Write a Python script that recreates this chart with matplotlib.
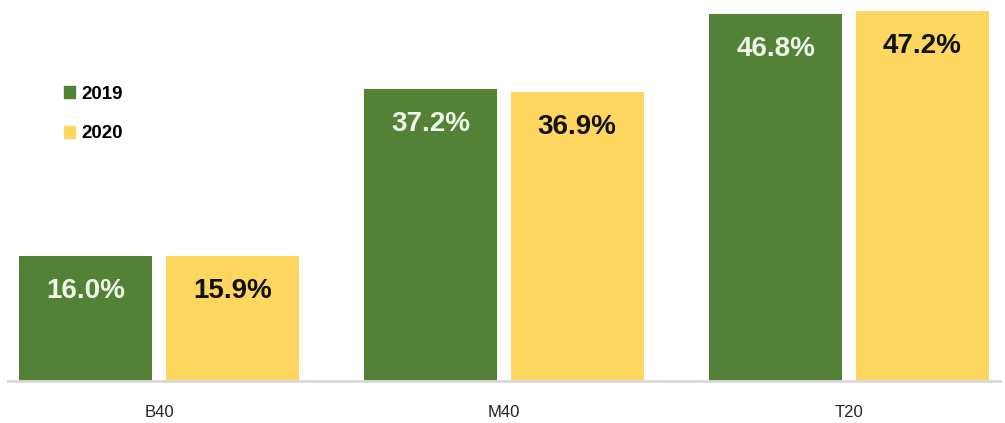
import numpy as np
import matplotlib.pyplot as plt
from matplotlib.patches import Patch

plt.rcParams['font.family'] = ['Liberation Sans Narrow', 'Liberation Sans', 'DejaVu Sans']

# data
groups = ['B40', 'M40', 'T20']
years = ['2019', '2020']
share_2019 = [16.0, 37.2, 46.8]
share_2020 = [15.9, 36.9, 47.2]

green = '#538135'
gold = '#FFD65F'

fig = plt.figure(figsize=(10.05, 4.23), dpi=100)
ax = fig.add_axes([8 / 1005, 1 - 381 / 423, 992 / 1005, 381 / 423])

x = np.arange(len(groups))
w = 0.385
off = 0.212
b1 = ax.bar(x - off, share_2019, w, color=green)
b2 = ax.bar(x + off, share_2020, w, color=gold)

for bars, vals, tc in [(b1, share_2019, '#eef7e8'), (b2, share_2020, '#111111')]:
    for r, v in zip(bars, vals):
        ax.annotate('{0:.1f}%'.format(v), (r.get_x() + r.get_width() / 2, v),
                    xytext=(0, -35), textcoords='offset pixels',
                    ha='center', va='center', fontsize=20, fontweight='bold', color=tc)

# pixel layout: first group centred at x=159, groups 345 px apart
ax.set_xlim((8 - 159) / 345, (1000 - 159) / 345)
ax.set_ylim(0, 381 / 7.84)

ax.set_xticks(x)
ax.set_xticklabels(groups, fontsize=12)
ax.tick_params(axis='x', length=0, pad=17, colors='#222222')
ax.set_yticks([])
for s in ['top', 'right', 'left']:
    ax.spines[s].set_visible(False)
ax.spines['bottom'].set_color('#d9d9d9')
ax.spines['bottom'].set_linewidth(2)

handles = [Patch(color=green), Patch(color=gold)]
fig.legend(handles, years, loc='upper left', bbox_to_anchor=(64 / 1005, 1 - 86 / 423),
           frameon=False, borderpad=0, borderaxespad=0, handlelength=0.6, handleheight=0.6,
           handletextpad=0.3, labelspacing=1.2, prop={'size': 13.5, 'weight': 'bold'})

fig.savefig('out.png', dpi=100)
